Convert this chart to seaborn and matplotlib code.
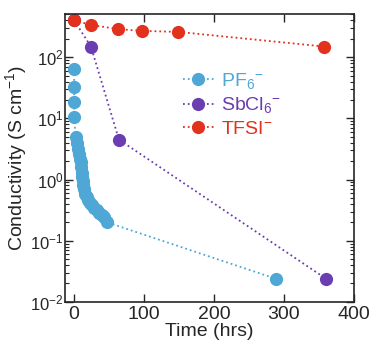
import numpy as np
import pandas as pd
import matplotlib
matplotlib.use("Agg")
import matplotlib.pyplot as plt
import seaborn as sns
from matplotlib.ticker import LogLocator, MultipleLocator, NullFormatter

sns.set_style("ticks")
plt.rcParams['font.family'] = ['Liberation Sans', 'DejaVu Sans']
plt.rcParams['mathtext.fontset'] = 'custom'
plt.rcParams['mathtext.rm'] = 'Liberation Sans'
plt.rcParams['mathtext.it'] = 'Liberation Sans:italic'
plt.rcParams['mathtext.bf'] = 'Liberation Sans:bold'

PF6_COLOR = '#4FA7D6'
SBCL6_COLOR = '#6A3DB0'
TFSI_COLOR = '#E2311D'

series = ['PF6', 'SbCl6', 'TFSI']
labels = ['PF$_6$$^{-}$', 'SbCl$_6$$^{-}$', 'TFSI$^{-}$']

pf6_time = [0, 0, 0, 0, 2, 4, 6.2, 7.4, 8.6, 9.3, 10, 11, 11.9, 12.6, 13.3, 14.5,
            15.7, 18, 20.4, 22.8, 25.3, 28.8, 32.4, 36, 39.6, 43, 47, 288]
pf6_cond = [63, 32, 18.7, 10.4, 5.0, 3.9, 3.2, 2.6, 2.2, 1.9, 1.6, 1.3, 1.1, 0.95, 0.81, 0.69,
            0.59, 0.52, 0.46, 0.42, 0.38, 0.345, 0.315, 0.285, 0.26, 0.24, 0.2, 0.024]

sbcl6_time = [0, 24, 64, 360]
sbcl6_cond = [398, 149, 4.5, 0.024]

tfsi_time = [0, 24, 63, 97, 149, 358]
tfsi_cond = [398, 337, 287, 269, 259, 149]

df = pd.concat([
    pd.DataFrame({'Time': pf6_time, 'Cond': pf6_cond, 'Anion': 'PF6'}),
    pd.DataFrame({'Time': sbcl6_time, 'Cond': sbcl6_cond, 'Anion': 'SbCl6'}),
    pd.DataFrame({'Time': tfsi_time, 'Cond': tfsi_cond, 'Anion': 'TFSI'}),
], ignore_index=True)

colors = [PF6_COLOR, SBCL6_COLOR, TFSI_COLOR]

fig = plt.figure(figsize=(3.74, 3.47), dpi=100)
ax = fig.add_axes([0.174, 0.13, 0.772, 0.83])

sns.lineplot(data=df, x='Time', y='Cond', hue='Anion', hue_order=series,
             palette=colors, marker='o', markersize=9.5, markeredgewidth=0,
             linestyle=':', linewidth=1.3, sort=False, estimator=None,
             ax=ax, legend=False)

ax.set_yscale('log')
ax.set_xlim(-13, 400)
ax.set_ylim(0.01, 510)
ax.xaxis.set_major_locator(MultipleLocator(100))
ax.yaxis.set_major_locator(LogLocator(base=10, numticks=10))
ax.yaxis.set_minor_locator(LogLocator(base=10, subs=np.arange(2, 10), numticks=20))
ax.yaxis.set_minor_formatter(NullFormatter())

ax.tick_params(which='both', direction='in', top=True, right=True)
ax.tick_params(axis='x', labelsize=14, pad=3)
ax.tick_params(axis='y', labelsize=12, pad=1)
ax.tick_params(which='major', length=6, width=1)
ax.tick_params(which='minor', length=3, width=0.8)
for s in ax.spines.values():
    s.set_linewidth(1.2)

ax.set_xlabel('Time (hrs)', fontsize=14, labelpad=0)
ax.set_ylabel('Conductivity (S cm$^{-1}$)', fontsize=14, labelpad=1)

handles = [plt.Line2D([], [], color=c, marker='o', markersize=9.5, markeredgewidth=0,
                      linestyle=':', linewidth=1.3) for c in colors]
leg = ax.legend(handles, labels, loc='upper left', bbox_to_anchor=(0.38, 0.83),
                frameon=False, fontsize=14, handlelength=1.6, handletextpad=0.4,
                labelspacing=0.25, borderaxespad=0)
for t, c in zip(leg.get_texts(), colors):
    t.set_color(c)

fig.savefig('out.png', dpi=100)
